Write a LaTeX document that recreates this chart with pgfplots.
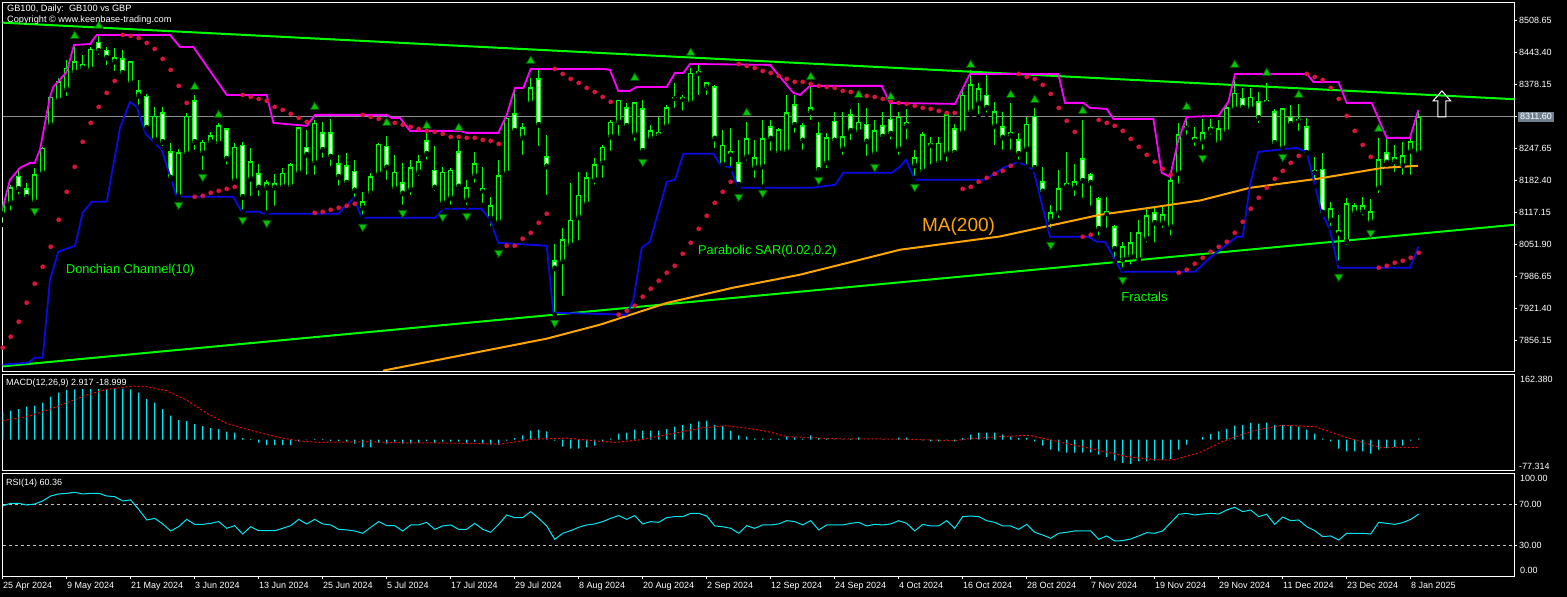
\documentclass[border=0pt]{standalone}
\usepackage{pgfplots}
\pgfplotsset{compat=1.18}
\usepackage{pgfplotstable}
\usepackage{fontspec}
\setmainfont{Liberation Sans}
\definecolor{mtgreen}{HTML}{00FF00}
\definecolor{mtmag}{HTML}{FF00FF}
\definecolor{mtblue}{HTML}{0A0AE6}
\definecolor{mtred}{HTML}{DC143C}
\definecolor{mtorange}{HTML}{FFA500}
\definecolor{mtcyan}{HTML}{00E6F0}
\definecolor{mtgray}{HTML}{8C8C8C}
\definecolor{mtslate}{HTML}{708090}
\definecolor{mtlevel}{HTML}{C0C0C0}
\definecolor{mtfrac}{HTML}{00C800}
\definecolor{mtfracd}{HTML}{005000}
\newcommand\mtf{\fontsize{9}{10.5}\selectfont}

\pgfplotstableread{
i O H L C
0 8112 8142 8091 8132
1 8136 8173 8116 8167
2 8190 8203 8149 8164
3 8165 8177 8142 8148
4 8138 8208 8136 8193
5 8197 8250 8193 8248
6 8295 8360 8289 8352
7 8346 8391 8342 8383
8 8367 8428 8350 8411
9 8403 8454 8397 8424
10 8418 8438 8401 8411
11 8409 8454 8407 8450
12 8464 8479 8434 8446
13 8448 8454 8413 8432
14 8424 8452 8401 8432
15 8430 8448 8397 8401
16 8381 8426 8377 8424
17 8354 8387 8332 8365
18 8354 8358 8285 8289
19 8265 8332 8258 8313
20 8320 8332 8248 8260
21 8240 8258 8183 8187
22 8148 8246 8148 8238
23 8236 8320 8226 8313
24 8344 8356 8240 8260
25 8238 8265 8199 8260
26 8260 8281 8250 8273
27 8258 8299 8248 8293
28 8287 8289 8210 8226
29 8181 8258 8179 8250
30 8254 8260 8118 8148
31 8185 8248 8146 8220
32 8195 8216 8146 8167
33 8167 8183 8116 8177
34 8167 8195 8126 8175
35 8169 8207 8163 8197
36 8169 8218 8161 8214
37 8197 8291 8189 8289
38 8250 8285 8189 8234
39 8218 8305 8189 8299
40 8279 8301 8224 8244
41 8279 8307 8207 8230
42 8216 8234 8167 8189
43 8212 8238 8167 8177
44 8201 8224 8142 8161
45 8126 8159 8108 8138
46 8156 8197 8148 8189
47 8195 8258 8191 8256
48 8252 8273 8179 8208
49 8165 8234 8156 8199
50 8177 8218 8128 8155
51 8163 8224 8148 8208
52 8199 8234 8187 8220
53 8263 8289 8220 8236
54 8203 8252 8156 8167
55 8136 8210 8126 8199
56 8146 8207 8128 8203
57 8240 8265 8159 8169
58 8142 8183 8128 8167
59 8191 8240 8173 8216
60 8161 8210 8132 8165
61 8104 8148 8085 8130
62 8097 8224 8091 8191
63 8197 8316 8193 8309
64 8318 8371 8279 8283
65 8269 8299 8230 8289
66 8340 8391 8340 8371
67 8389 8409 8248 8295
68 8230 8275 8148 8210
69 8018 8053 7908 8002
70 8016 8085 7942 8061
71 8050 8177 8040 8101
72 8106 8199 8055 8152
73 8134 8199 8128 8187
74 8183 8228 8169 8214
75 8218 8254 8183 8250
76 8271 8305 8238 8301
77 8301 8346 8269 8346
78 8330 8340 8285 8293
79 8275 8342 8258 8340
80 8328 8346 8234 8242
81 8267 8295 8258 8283
82 8279 8312 8265 8273
83 8293 8336 8289 8330
84 8350 8381 8326 8352
85 8352 8356 8320 8348
86 8340 8411 8340 8401
87 8405 8418 8352 8401
88 8371 8383 8352 8381
89 8373 8377 8244 8267
90 8214 8285 8210 8254
91 8236 8289 8203 8240
92 8218 8265 8169 8173
93 8230 8301 8218 8267
94 8208 8265 8183 8228
95 8210 8305 8169 8267
96 8291 8305 8238 8267
97 8238 8289 8234 8285
98 8240 8356 8238 8320
99 8336 8356 8275 8295
100 8293 8299 8240 8263
101 8320 8373 8301 8330
102 8277 8301 8197 8203
103 8218 8279 8203 8269
104 8303 8322 8258 8263
105 8246 8322 8230 8271
106 8316 8328 8260 8283
107 8281 8340 8271 8301
108 8297 8330 8228 8261
109 8236 8305 8228 8283
110 8293 8322 8261 8271
111 8307 8342 8261 8277
112 8246 8322 8230 8311
113 8301 8328 8261 8293
114 8212 8244 8187 8228
115 8201 8281 8193 8275
116 8254 8271 8210 8257
117 8218 8271 8210 8258
118 8236 8322 8216 8316
119 8287 8297 8232 8238
120 8279 8371 8279 8356
121 8322 8407 8316 8377
122 8340 8381 8313 8369
123 8356 8397 8316 8330
124 8293 8342 8250 8322
125 8291 8322 8240 8269
126 8273 8340 8240 8279
127 8265 8279 8220 8236
128 8246 8311 8210 8297
129 8313 8330 8203 8207
130 8179 8210 8156 8159
131 8099 8132 8081 8116
132 8116 8203 8101 8165
133 8169 8240 8169 8175
134 8167 8216 8146 8179
135 8226 8305 8142 8181
136 8193 8197 8126 8177
137 8144 8148 8065 8083
138 8114 8148 8081 8118
139 8087 8091 8016 8042
140 8020 8057 8000 8046
141 8026 8077 8006 8055
142 8020 8101 8016 8075
143 8063 8126 8051 8110
144 8116 8128 8051 8095
145 8095 8128 8081 8112
146 8087 8197 8065 8181
147 8197 8299 8171 8275
148 8290 8311 8271 8291
149 8265 8291 8248 8269
150 8261 8307 8240 8279
151 8283 8307 8271 8289
152 8259 8305 8254 8287
153 8281 8336 8271 8330
154 8328 8387 8326 8360
155 8350 8371 8320 8330
156 8328 8371 8326 8352
157 8342 8362 8295 8309
158 8342 8381 8332 8344
159 8322 8328 8254 8258
160 8248 8330 8248 8328
161 8311 8336 8289 8297
162 8304 8338 8279 8306
163 8291 8309 8238 8238
164 8199 8230 8169 8203
165 8205 8238 8112 8116
166 8101 8138 8085 8124
167 8079 8112 8014 8075
168 8057 8146 8046 8134
169 8116 8136 8106 8130
170 8118 8148 8106 8130
171 8097 8144 8091 8118
172 8167 8269 8152 8224
173 8238 8269 8214 8218
174 8220 8254 8195 8228
175 8212 8261 8189 8232
176 8242 8269 8189 8261
177 8238 8326 8238 8311
}\candles

\pgfplotstableread{
i sar
0 7840.5
1 7862.9
2 7893.5
3 7932.3
4 7971.0
5 8005.7
6 8046.5
7 8101.5
8 8158.6
9 8209.6
10 8260.6
11 8299.3
12 8331.9
13 8360.5
14 8384.9
15 8478.7
16 8476.7
17 8472.6
18 8462.4
19 8450.2
20 8429.8
21 8407.4
22 8374.8
23 8340.1
24 8148.4
25 8150.5
26 8156.6
27 8160.6
28 8164.7
29 8168.8
30 8356.4
31 8352.3
32 8348.2
33 8344.2
34 8331.9
35 8325.8
36 8317.7
37 8309.5
38 8301.3
39 8115.8
40 8117.8
41 8121.9
42 8126.0
43 8130.1
44 8134.2
45 8315.6
46 8311.5
47 8307.5
48 8303.4
49 8299.3
50 8295.2
51 8291.2
52 8287.1
53 8283.0
54 8280.9
55 8276.9
56 8270.8
57 8270.8
58 8268.7
59 8268.7
60 8264.6
61 8262.6
62 8256.5
63 8048.5
64 8048.5
65 8062.8
66 8075.0
67 8095.4
68 8113.8
69 8409.4
70 8399.2
71 8389.0
72 8380.9
73 8370.7
74 8362.5
75 8352.3
76 8342.1
77 7907.8
78 7915.9
79 7926.2
80 7944.5
81 7960.8
82 7977.1
83 7993.5
84 8007.7
85 8032.2
86 8054.6
87 8083.2
88 8109.7
89 8136.2
90 8158.6
91 8179.0
92 8419.6
93 8415.5
94 8411.4
95 8405.3
96 8401.2
97 8395.1
98 8389.0
99 8382.9
100 8382.9
101 8378.8
102 8374.8
103 8372.7
104 8370.7
105 8364.6
106 8362.5
107 8360.5
108 8354.4
109 8352.3
110 8348.2
111 8344.2
112 8340.1
113 8338.0
114 8334.0
115 8329.9
116 8327.8
117 8323.8
118 8319.7
119 8319.7
120 8164.7
121 8168.8
122 8179.0
123 8187.2
124 8195.3
125 8201.4
126 8211.6
127 8399.2
128 8393.1
129 8389.0
130 8376.8
131 8358.4
132 8329.9
133 8303.4
134 8280.9
135 8066.9
136 8070.9
137 8305.4
138 8299.3
139 8293.2
140 8283.0
141 8266.7
142 8250.4
143 8234.1
144 8219.8
145 8205.5
146 8193.3
147 7993.5
148 7999.6
149 8011.8
150 8024.0
151 8036.3
152 8046.5
153 8056.7
154 8075.0
155 8097.4
156 8124.0
157 8146.4
158 8166.8
159 8185.1
160 8201.4
161 8217.7
162 8232.0
163 8399.2
164 8393.1
165 8387.0
166 8370.7
167 8348.2
168 8313.6
169 8283.0
170 8254.4
171 8230.0
172 8003.7
173 8007.7
174 8013.8
175 8017.9
176 8024.0
177 8034.2
}\sartab

\pgfplotstableread{
i macd rsi
0 70 68.4
1 72.4 71
2 76.7 71
3 82.4 69.3
4 84.9 70.3
5 92.4 73.3
6 107.4 78.2
7 117.4 80.2
8 124 80.8
9 126 81.8
10 127 80.2
11 127 80.8
12 127 80.8
13 127 78.2
14 127 77.5
15 127 73.3
16 126 74.3
17 117.4 65
18 101.6 54.6
19 92.4 56.2
20 76.7 50.7
21 60 43.8
22 49.2 48
23 46.7 55.2
24 39.2 50.3
25 34.2 50.3
26 29.2 51.3
27 26.7 53
28 20 46.4
29 17.5 49
30 4.2 40.8
31 1.7 48
32 -7.5 44
33 -13.3 44
34 -13.3 44
35 -13.3 46.4
36 -13.3 49
37 -4 55.2
38 -1 50.7
39 2 55.2
40 2 50.7
41 -3 49.7
42 -3 45.4
43 -5 44.8
44 -10 43.8
45 -19 41.5
46 -19 47.4
47 -8 53
48 -10 49
49 -5 49
50 -10 43.8
51 -10 49.7
52 -8 49.7
53 -3 52.3
54 -8 45.4
55 -5 48.7
56 -5 49.7
57 -5 45.4
58 -8 45.4
59 -5 51.3
60 -10 45.4
61 -12 42.5
62 -12 50.3
63 -2 59.5
64 4 56.9
65 11 56.9
66 23 62.8
67 25 56.2
68 21 48.7
69 -2.5 35.6
70 -17 41.5
71 -22 44.1
72 -22 47.4
73 -19 49.7
74 -15 50.7
75 -4 53
76 2.5 56.2
77 15 58.9
78 18 55.2
79 25 58.9
80 22.5 50.7
81 22.5 53
82 22.5 52.3
83 26.6 56.9
84 33 57.9
85 37 57.9
86 40 61.1
87 46 61.1
88 48 58.5
89 37 48.7
90 35 48
91 22.5 46.4
92 11 41.5
93 8 49
94 3 46.4
95 2.5 49.7
96 2.5 49.7
97 2.5 50.7
98 8 53.9
99 6 53
100 2.5 49.7
101 11 53.9
102 4 44.8
103 2.5 49.7
104 1 49.7
105 1 49.7
106 2 51.3
107 6 52.3
108 0.3 48.7
109 0.3 50.3
110 1 49.7
111 0.3 50.7
112 5 53.9
113 5 51.3
114 0.3 43.8
115 -1.5 50.3
116 -4 48.7
117 -4 48.7
118 -1 53.9
119 -4 46.4
120 4 57.9
121 12.5 58.5
122 18 57.9
123 18 53.9
124 18 52.3
125 12.5 48.7
126 8 48.7
127 4 45.4
128 4 50.3
129 -4 42.5
130 -15 39.8
131 -25 36.6
132 -29 41.5
133 -32 42.5
134 -32 43.8
135 -32 43.8
136 -32 43.8
137 -37 35.6
138 -43 38.9
139 -52 33.9
140 -58 34.3
141 -60 35.9
142 -54 38.9
143 -54 42.1
144 -52 41.5
145 -50 43.8
146 -48 52
147 -25 60.2
148 -12.5 61.1
149 0.5 59.5
150 6.7 60.5
151 14 61.1
152 21 60.5
153 27 64.4
154 35 67
155 37 62.8
156 42 64.4
157 40 57.9
158 43 60.2
159 37 50.3
160 37 57.5
161 35 53.9
162 33 54.6
163 25 48
164 15 44.1
165 2.5 38.2
166 -4 38.9
167 -22 34.9
168 -29 41.5
169 -29 41.5
170 -29 41.5
171 -35 40.8
172 -25 52.3
173 -21 51.3
174 -18 50.3
175 -15 52
176 -2.5 55.2
177 2.9 60.4
}\osc

\begin{document}
\begin{tikzpicture}[x=1pt,y=1pt]
\path[use as bounding box, fill=black] (0,0) rectangle (1567,597);

% ---------------- main price panel ----------------
\begin{axis}[name=main, at={(2.7pt,226pt)}, anchor=south west, scale only axis,
  width=1511.6pt, height=368.7pt,
  xmin=0, xmax=188.95, ymin=7792.9, ymax=8545.4,
  axis line style={white, line width=0.8pt},
  xtick=\empty,
  ytick={7856.15,7921.40,7986.65,8051.90,8117.15,8182.40,8247.65,8378.15,8443.40,8508.65},
  yticklabels={7856.15,7921.40,7986.65,8051.90,8117.15,8182.40,8247.65,8378.15,8443.40,8508.65},
  ytick pos=right, yticklabel pos=right, tick align=outside, major tick length=3pt,
  tick style={white, line width=0.8pt},
  yticklabel style={font=\mtf, text=white, inner sep=1.5pt},
  extra y ticks={8311.6}, extra y tick labels={8311.60},
  extra y tick style={yticklabel style={fill=mtslate, inner xsep=2.5pt, inner ysep=1.5pt}},
]
% current price line
\addplot[mtgray, line width=0.8pt] coordinates {(0,8311.6) (188.95,8311.6)};
% wicks
\addplot[only marks, mark=none, error bars/.cd, y dir=plus, y explicit, error mark=none,
  error bar style={draw=mtgreen, line width=1pt}]
  table[x=i, y=L, y error expr=\thisrow{H}-\thisrow{L}] {\candles};
% bodies outline
\addplot[only marks, mark=none, error bars/.cd, y dir=plus, y explicit, error mark=none,
  error bar style={draw=mtgreen, line width=5pt}]
  table[x=i, y expr={min(\thisrow{O},\thisrow{C})-1}, y error expr={abs(\thisrow{C}-\thisrow{O})+2}] {\candles};
% bear bodies (white)
\addplot[only marks, mark=none, restrict expr to domain={\thisrow{O}-\thisrow{C}}{4.01:100000},
  error bars/.cd, y dir=plus, y explicit, error mark=none,
  error bar style={draw=white, line width=3pt}]
  table[x=i, y expr={\thisrow{C}+2}, y error expr={\thisrow{O}-\thisrow{C}-4}] {\candles};
% bull bodies (hollow)
\addplot[only marks, mark=none, restrict expr to domain={\thisrow{C}-\thisrow{O}}{4.01:100000},
  error bars/.cd, y dir=plus, y explicit, error mark=none,
  error bar style={draw=black, line width=3pt}]
  table[x=i, y expr={\thisrow{O}+2}, y error expr={\thisrow{C}-\thisrow{O}-4}] {\candles};

% trend lines
\addplot[mtgreen, line width=2pt] coordinates {(0,8503.8) (188.95,8347.6)};
\addplot[mtgreen, line width=2pt] coordinates {(0,7802.4) (188.95,8091.3)};
% MA(200)
\addplot[mtorange, line width=2pt] coordinates {(47.54,7793.6) (68,7858.9) (74.66,7887.4) (83,7931.7) (91.29,7962.9) (99.66,7989.4) (112.16,8040.4) (124.66,8067.5) (137.16,8111.7) (143.41,8126.0) (149.66,8140.9) (155.91,8166.8) (164.29,8185.1) (172.54,8207.6) (176.91,8211.6)};
% Donchian upper
\addplot[mtmag, line width=1.8pt] coordinates {(0,8126.0) (0.91,8183.1) (2.16,8207.6) (3.41,8217.7) (4,8217.7) (4.66,8244.2) (5.29,8299.3) (5.91,8352.3) (6.33,8372.7) (8,8403.3) (8.91,8458.3) (10.91,8460.4) (11.75,8478.7) (20.91,8478.7) (22.16,8454.3) (23.83,8454.3) (28,8356.4) (33,8356.4) (33.83,8299.3) (38,8293.2) (39.04,8315.6) (48,8315.6) (48.6,8309.5) (49.66,8309.5) (50.91,8283.0) (57.16,8283.0) (58,8278.9) (61.95,8278.9) (63,8315.6) (64.04,8370.7) (65.08,8370.7) (66,8409.4) (75.08,8409.4) (75.91,8407.4) (76.95,8364.6) (78.41,8364.6) (79.25,8372.7) (83,8372.7) (84.04,8401.2) (85.08,8401.2) (85.91,8419.6) (95.91,8417.6) (96.75,8401.2) (98.83,8360.5) (99.66,8356.4) (100.91,8374.8) (109.87,8374.8) (110.91,8340.1) (119.04,8338.0) (120.91,8399.2) (131.95,8399.2) (132.79,8340.1) (135.08,8340.1) (135.91,8329.9) (138,8327.8) (138.83,8307.5) (143.83,8307.5) (144.87,8197.4) (145.91,8189.2) (146.95,8264.6) (148,8311.5) (151.95,8313.6) (153.2,8342.1) (154.04,8399.2) (163,8399.2) (163.83,8382.9) (166.95,8382.9) (168,8340.1) (171.12,8340.1) (173,8268.7) (175.91,8268.7) (176.95,8325.8)};
% Donchian lower
\addplot[mtblue, line width=1.8pt] coordinates {(0,7805.9) (3.2,7809.9) (4.04,7820.1) (5,7820.1) (5.91,7979.2) (6.95,8036.3) (9.04,8048.5) (10,8115.8) (11.12,8138.2) (13,8138.2) (14.66,8289.1) (15.91,8342.1) (16.75,8331.9) (17.87,8276.9) (19.87,8244.2) (21.75,8148.4) (28.83,8148.4) (29.87,8117.8) (32.16,8117.8) (32.58,8113.8) (41.95,8113.8) (43.91,8146.4) (44.87,8105.6) (54.04,8105.6) (55.08,8124.0) (59.87,8124.0) (60.91,8101.5) (61.95,8054.6) (68,8048.5) (68.83,7911.9) (78,7907.8) (78.83,7938.4) (79.87,8044.4) (80.91,8056.7) (83,8179.0) (84.04,8183.1) (85.08,8236.1) (88.83,8236.1) (89.87,8209.6) (90.91,8209.6) (91.95,8166.8) (101.12,8166.8) (104.04,8172.9) (105.08,8197.4) (111.12,8197.4) (112.16,8209.6) (112.91,8223.9) (114.04,8183.1) (122.79,8183.1) (125.08,8207.6) (126.95,8219.8) (128.83,8203.5) (130.91,8066.9) (135.7,8066.9) (136.75,8056.7) (137.79,8056.7) (139.87,7995.5) (149.04,7995.5) (150.91,8024.0) (152.16,8040.4) (154.25,8066.9) (155,8066.9) (155.91,8172.9) (156.95,8240.2) (161.75,8248.3) (163,8240.2) (164.87,8115.8) (165.91,8081.1) (166.95,8003.7) (175.91,8003.7) (176.95,8046.5)};
% Parabolic SAR
\addplot[only marks, mark=*, mark size=2.1pt, mtred, mark options={draw=mtred, fill=mtred}] table[x=i, y=sar] {\sartab};
% Fractals up
\addplot[only marks, mark=triangle*, mark size=5pt, mark options={fill=mtfrac, draw=mtfracd, line width=0.7pt}] coordinates {
(9,8476.7) (12,8497.1) (24,8372.7) (27,8315.6) (39,8331.9) (48,8299.3) (53,8293.2) (57,8289.1) (66,8425.7) (79,8391.1) (86,8442.0) (93,8319.7) (101,8393.1) (107,8356.4) (111,8352.3) (121,8417.6) (126,8356.4) (129,8346.2) (135,8323.8) (148,8331.9) (154,8417.6) (158,8401.2) (162,8356.4) (172,8287.1)};
% Fractals down
\addplot[only marks, mark=triangle*, mark size=5pt, mark options={fill=mtfrac, draw=mtfracd, line width=0.7pt, rotate=180}] coordinates {
(4,8119.9) (22,8132.1) (25,8189.2) (30,8101.5) (33,8095.4) (45,8087.3) (50,8115.8) (55,8107.6) (58,8109.7) (62,8034.2) (69,7891.5) (80,8219.8) (92,8148.4) (95,8156.6) (102,8183.1) (109,8209.6) (114,8168.8) (131,8050.5) (140,7979.2) (150,8227.9) (160,8230.0) (167,7985.3) (171,8075.0)};
% labels
\node[anchor=west, text=mtgreen, font=\fontsize{12.8}{14}\selectfont, inner sep=0pt] at (axis cs:7.9,7999.6) {Donchian Channel(10)};
\node[anchor=west, text=mtgreen, font=\fontsize{12.8}{14}\selectfont, inner sep=0pt] at (axis cs:86.9,8038.3) {Parabolic SAR(0.02,0.2)};
\node[anchor=west, text=mtorange, font=\fontsize{19}{21}\selectfont, inner sep=0pt] at (axis cs:114.9,8087) {MA(200)};
\node[anchor=west, text=mtgreen, font=\fontsize{13}{14}\selectfont, inner sep=0pt] at (axis cs:139.8,7944.5) {Fractals};
% up arrow annotation
\draw[white, line width=1pt] (axis cs:179.9,8364.6) -- (axis cs:181.0,8344.2) -- (axis cs:180.4,8344.2) -- (axis cs:180.4,8311.5) -- (axis cs:179.4,8311.5) -- (axis cs:179.4,8344.2) -- (axis cs:178.8,8344.2) -- cycle;
\end{axis}

% ---------------- MACD panel ----------------
\begin{axis}[name=macd, at={(2.7pt,126.3pt)}, anchor=south west, scale only axis,
  width=1511.6pt, height=96pt,
  xmin=0, xmax=188.95, ymin=-77.314, ymax=162.38,
  axis line style={white, line width=0.8pt},
  xtick=\empty, ytick=\empty,
]
\addplot[ybar, bar width=1.2pt, fill=mtcyan, draw=none] table[x=i, y=macd] {\osc};
\addplot[red, line width=1pt, dash pattern=on 2pt off 2pt] coordinates {(0,47.5) (3,57.5) (5.9,76) (8,92.4) (10.5,111.6) (13,125.8) (16.3,134) (18,132.3) (20.5,122.3) (23,99) (25.5,66) (28,41) (31.3,21.7) (34.7,5) (37.2,-3.3) (39.7,-6.5) (45.5,-5) (49.7,-7.5) (53.8,-8) (58,-9) (62.2,-11) (66.3,1.6) (70.5,4) (74.7,-4) (76.7,-6.6) (79.7,0) (83,12.5) (87.2,29) (90.5,35) (93,29) (95.5,21) (98,8) (103.8,2.5) (112.2,1.6) (118.8,-2.5) (120.5,1.6) (124.7,8) (128.3,11) (131.4,-2.5) (136,-22) (140.5,-42) (144.1,-50) (146.4,-50) (149.5,-33) (152.7,-2.5) (156.3,22.5) (159.9,36) (164,33) (167.6,8) (172.1,-19) (177,-19)};
\end{axis}

% ---------------- RSI panel ----------------
\begin{axis}[name=rsi, at={(2.7pt,21pt)}, anchor=south west, scale only axis,
  width=1511.6pt, height=102.7pt,
  xmin=0, xmax=188.95, ymin=-0.5, ymax=100.5,
  axis line style={white, line width=0.8pt},
  xtick={0,8,...,176},
  xticklabels={25 Apr 2024,9 May 2024,21 May 2024,3 Jun 2024,13 Jun 2024,25 Jun 2024,5 Jul 2024,17 Jul 2024,29 Jul 2024,8 Aug 2024,20 Aug 2024,2 Sep 2024,12 Sep 2024,24 Sep 2024,4 Oct 2024,16 Oct 2024,28 Oct 2024,7 Nov 2024,19 Nov 2024,29 Nov 2024,11 Dec 2024,23 Dec 2024,8 Jan 2025},
  xtick pos=bottom,
  ytick={30,70}, yticklabels={30.00,70.00},
  ytick pos=right, yticklabel pos=right,
  tick align=outside, major tick length=3pt,
  tick style={white, line width=0.8pt},
  yticklabel style={font=\mtf, text=white, inner sep=1.5pt},
  xticklabel style={font=\mtf, text=white, anchor=north west, inner sep=0pt, xshift=0.3pt, yshift=-3pt},
]
\addplot[mtlevel, line width=0.8pt, dash pattern=on 3pt off 3pt] coordinates {(0,70) (188.95,70)};
\addplot[mtlevel, line width=0.8pt, dash pattern=on 3pt off 3pt] coordinates {(0,30) (188.95,30)};
\addplot[mtcyan, line width=1pt] table[x=i, y=rsi] {\osc};
\end{axis}

% ---------------- texts ----------------
\node[anchor=west, text=white, font=\fontsize{9.2}{11}\selectfont, inner sep=0pt] at (7,587.5) {GB100, Daily:\ \ GB100 vs GBP};
\node[anchor=west, text=white, font=\fontsize{9.2}{11}\selectfont, inner sep=0pt] at (7,576.5) {Copyright © www.keenbase-trading.com};
\node[anchor=west, text=white, font=\mtf, inner sep=0pt] at (6,214) {MACD(12,26,9) 2.917 -18.999};
\node[anchor=west, text=white, font=\mtf, inner sep=0pt] at (6,114) {RSI(14) 60.36};
\node[anchor=west, text=white, font=\mtf, inner sep=0pt] at ([xshift=5.5pt,yshift=-4.6pt]macd.north east) {162.380};
\node[anchor=west, text=white, font=\mtf, inner sep=0pt] at ([xshift=4.5pt,yshift=4.7pt]macd.south east) {-77.314};
\node[anchor=west, text=white, font=\mtf, inner sep=0pt] at ([xshift=5.5pt,yshift=-5.2pt]rsi.north east) {100.00};
\node[anchor=west, text=white, font=\mtf, inner sep=0pt] at ([xshift=5.5pt,yshift=6pt]rsi.south east) {0.00};
\end{tikzpicture}
\end{document}
